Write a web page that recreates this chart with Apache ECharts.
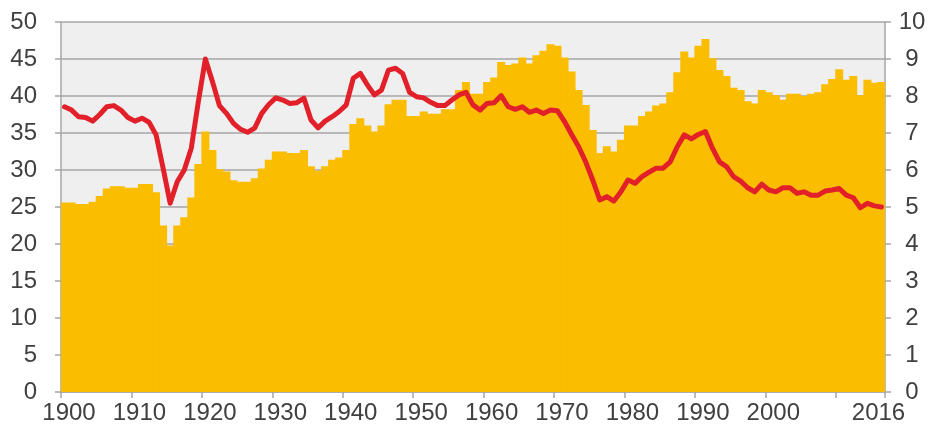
<!DOCTYPE html>
<html>
<head>
<meta charset="utf-8">
<script src="https://cdn.jsdelivr.net/npm/echarts@6/dist/echarts.min.js"></script>
<style>
html,body{margin:0;padding:0;background:#fff;}
#chart{width:936px;height:432px;}
</style>
</head>
<body>
<div id="chart"></div>
<script>
const years = [
'1900','1901','1902','1903','1904','1905','1906','1907','1908','1909',
'1910','1911','1912','1913','1914','1915','1916','1917','1918','1919',
'1920','1921','1922','1923','1924','1925','1926','1927','1928','1929',
'1930','1931','1932','1933','1934','1935','1936','1937','1938','1939',
'1940','1941','1942','1943','1944','1945','1946','1947','1948','1949',
'1950','1951','1952','1953','1954','1955','1956','1957','1958','1959',
'1960','1961','1962','1963','1964','1965','1966','1967','1968','1969',
'1970','1971','1972','1973','1974','1975','1976','1977','1978','1979',
'1980','1981','1982','1983','1984','1985','1986','1987','1988','1989',
'1990','1991','1992','1993','1994','1995','1996','1997','1998','1999',
'2000','2001','2002','2003','2004','2005','2006','2007','2008','2009',
'2010','2011','2012','2013','2014','2015','2016'];

const barValues = [
25.6,25.6,25.4,25.4,25.7,26.5,27.5,27.8,27.8,27.6,
27.6,28.1,28.1,27.0,22.5,19.8,22.5,23.6,26.3,30.8,
35.2,32.7,30.1,29.8,28.6,28.4,28.4,28.9,30.2,31.4,
32.5,32.5,32.3,32.3,32.7,30.5,29.9,30.5,31.4,31.7,
32.7,36.2,37.0,36.0,35.2,36.0,38.9,39.5,39.5,37.3,
37.3,37.9,37.6,37.6,38.2,38.2,40.8,41.9,40.3,40.3,
41.9,42.5,44.6,44.2,44.4,45.2,44.4,45.5,46.1,47.0,
46.8,45.2,43.3,40.8,38.8,35.4,32.3,33.2,32.5,34.1,
36.0,36.0,37.3,37.9,38.7,39.0,40.5,43.2,46.0,45.2,
46.8,47.7,45.1,43.5,42.7,41.1,40.8,39.3,39.0,40.8,
40.5,40.1,39.5,40.3,40.3,40.0,40.3,40.5,41.6,42.3,
43.6,42.2,42.7,40.1,42.2,41.8,41.9];

const lineValues = [
7.71,7.62,7.44,7.42,7.32,7.50,7.71,7.74,7.62,7.42,
7.32,7.40,7.29,6.95,6.05,5.10,5.68,6.00,6.59,7.85,
9.00,8.39,7.74,7.53,7.26,7.10,7.02,7.13,7.53,7.77,
7.95,7.89,7.80,7.82,7.94,7.35,7.14,7.32,7.44,7.58,
7.76,8.48,8.61,8.30,8.03,8.16,8.70,8.75,8.61,8.10,
7.98,7.95,7.83,7.74,7.74,7.89,8.03,8.10,7.76,7.62,
7.80,7.82,8.01,7.71,7.64,7.71,7.56,7.62,7.53,7.62,
7.60,7.31,6.96,6.63,6.22,5.73,5.19,5.28,5.16,5.41,
5.73,5.64,5.82,5.94,6.05,6.05,6.22,6.63,6.95,6.84,
6.96,7.04,6.59,6.22,6.09,5.82,5.70,5.52,5.41,5.62,
5.46,5.41,5.52,5.52,5.37,5.41,5.32,5.32,5.43,5.46,
5.50,5.32,5.25,4.98,5.10,5.03,5.00];

const xTickLabels = ['1900','1910','1920','1930','1940','1950','1960','1970','1980','1990','2000','2016'];
const xTickMarks = ['1900','1910','1920','1930','1940','1950','1960','1970','1980','1990','2000','2010'];

const textColor = '#404040';
const axisGray = '#A6A6A6';
const barColor = '#FABD00';
const fontFamily = 'Liberation Sans, Arial, sans-serif';

const chart = echarts.init(document.getElementById('chart'), null, {renderer: 'canvas'});
chart.setOption({
  animation: false,
  grid: {left: 61, right: 51, top: 22, bottom: 40, show: true, backgroundColor: '#EFEFEF', borderWidth: 0},
  xAxis: {
    type: 'category',
    data: years,
    boundaryGap: true,
    axisLine: {show: true, lineStyle: {color: axisGray, width: 1.5}},
    axisTick: {show: true, length: 6, lineStyle: {color: axisGray, width: 1.5},
      interval: function (i, v) { return xTickMarks.indexOf(v) >= 0; }},
    axisLabel: {
      interval: function (i, v) { return xTickLabels.indexOf(v) >= 0; },
      color: textColor, fontSize: 24, fontFamily: fontFamily, margin: 9,
      formatter: function (v) { return v === '2016' ? '{e|' + v + '}' : '{n|' + v + '}'; },
      rich: {
        n: {fontSize: 24, fontFamily: fontFamily, color: textColor, padding: [0, 0, 0, 9]},
        e: {fontSize: 24, fontFamily: fontFamily, color: textColor, padding: [0, 6, 0, 0]}
      }
    },
    splitLine: {show: false}
  },
  yAxis: [
    {
      type: 'value', min: 0, max: 50, interval: 5, position: 'left',
      axisLine: {show: true, lineStyle: {color: axisGray, width: 1.5}},
      axisTick: {show: true, length: 6, lineStyle: {color: axisGray, width: 1.5}},
      axisLabel: {color: textColor, fontSize: 24, fontFamily: fontFamily, margin: 24},
      splitLine: {show: true, lineStyle: {color: axisGray, width: 1.5}}
    },
    {
      type: 'value', min: 0, max: 10, interval: 1, position: 'right',
      axisLine: {show: true, lineStyle: {color: axisGray, width: 1.5}},
      axisTick: {show: true, length: 6, lineStyle: {color: axisGray, width: 1.5}},
      axisLabel: {color: textColor, fontSize: 24, fontFamily: fontFamily, margin: 27, align: 'center'},
      splitLine: {show: false}
    }
  ],
  series: [
    {
      type: 'bar', data: barValues, yAxisIndex: 0,
      barWidth: 8, barGap: '-100%',
      itemStyle: {color: barColor}
    },
    {
      type: 'line', data: lineValues, yAxisIndex: 1,
      symbol: 'none', smooth: false,
      lineStyle: {color: '#E2202A', width: 5, cap: 'round', join: 'round'}
    }
  ]
});
</script>
</body>
</html>
